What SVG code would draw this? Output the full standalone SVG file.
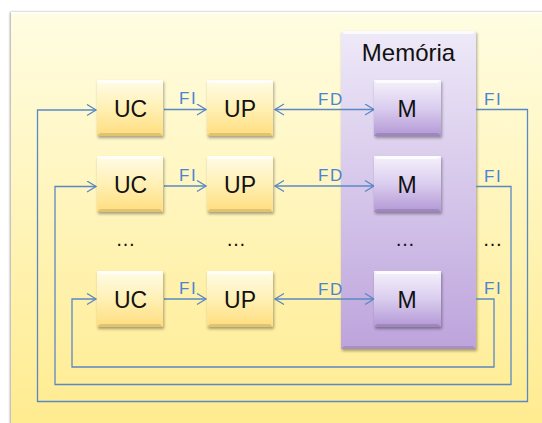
<svg xmlns="http://www.w3.org/2000/svg" width="542" height="423" viewBox="0 0 542 423">
  <style>
    .box-label { font-family: "Liberation Sans", Arial, sans-serif; font-size: 23px; fill: #111; text-anchor: middle; }
    .title { font-family: "Liberation Sans", Arial, sans-serif; font-size: 24px; fill: #111; text-anchor: middle; }
    .edge-label { font-family: "Liberation Sans", Arial, sans-serif; font-size: 17px; fill: #4A84D2; letter-spacing: 1.5px; }
    .dots { font-family: "Liberation Sans", Arial, sans-serif; font-size: 20px; fill: #111; text-anchor: middle; }
    .wire { fill: none; stroke: #5A88C4; stroke-width: 1.3; }
    .bevel-top { fill: #fff; opacity: 0.75; }
    .bevel-bottom { fill: #000; opacity: 0.12; }
  </style>
  <defs>
    <linearGradient id="panelFill" x1="0" y1="0" x2="0" y2="1">
      <stop offset="0" stop-color="#FFFDE2"/>
      <stop offset="1" stop-color="#FFEB8E"/>
    </linearGradient>
    <linearGradient id="yellowBox" x1="0" y1="0" x2="0" y2="1">
      <stop offset="0" stop-color="#FFFCE8"/>
      <stop offset="0.5" stop-color="#FFF0B4"/>
      <stop offset="1" stop-color="#FFDD7E"/>
    </linearGradient>
    <linearGradient id="memFill" x1="0" y1="0" x2="0" y2="1">
      <stop offset="0" stop-color="#EEE9F8"/>
      <stop offset="1" stop-color="#BDA4DC"/>
    </linearGradient>
    <linearGradient id="mFill" x1="0" y1="0" x2="0" y2="1">
      <stop offset="0" stop-color="#F5F1FB"/>
      <stop offset="0.5" stop-color="#DACDEF"/>
      <stop offset="1" stop-color="#B398D5"/>
    </linearGradient>
    <filter id="shadow" x="-20%" y="-20%" width="150%" height="150%">
      <feDropShadow dx="1" dy="2" stdDeviation="1.5" flood-color="#000" flood-opacity="0.35"/>
    </filter>
    <filter id="panelShadow" x="-5%" y="-5%" width="110%" height="110%">
      <feDropShadow dx="-1" dy="0" stdDeviation="1.2" flood-color="#000" flood-opacity="0.35"/>
    </filter>
    <marker id="arrow" markerUnits="userSpaceOnUse" markerWidth="14" markerHeight="14" refX="10" refY="6" orient="auto-start-reverse">
      <path d="M1,0.5 L10,6 L1,11.5" fill="none" stroke="#5A88C4" stroke-width="1.3"/>
    </marker>
  </defs>

  <!-- background panel -->
  <rect x="11" y="12" width="545" height="420" fill="url(#panelFill)" filter="url(#panelShadow)"/>
  <rect x="11" y="12" width="545" height="2" fill="#fff" opacity="0.8"/>

  <!-- memory block -->
  <g id="memoria">
    <rect x="341" y="31" width="135" height="318" fill="url(#memFill)" filter="url(#shadow)"/>
    <path class="bevel-top" d="M341,31 H476 L473,34 H344 Z"/>
    <path class="bevel-bottom" d="M341,349 H476 L473,346 H344 Z"/>
    <text class="title" x="408.5" y="61">Memória</text>
  </g>

  <!-- connectors -->
  <g id="connectors">
    <!-- UC -> UP -->
    <line class="wire" x1="164" y1="109.5" x2="206" y2="109.5" marker-end="url(#arrow)"/>
    <line class="wire" x1="164" y1="186" x2="206" y2="186" marker-end="url(#arrow)"/>
    <line class="wire" x1="164" y1="299" x2="206" y2="299" marker-end="url(#arrow)"/>
    <!-- UP <-> M -->
    <line class="wire" x1="275" y1="109.5" x2="374" y2="109.5" marker-start="url(#arrow)" marker-end="url(#arrow)"/>
    <line class="wire" x1="275" y1="186" x2="374" y2="186" marker-start="url(#arrow)" marker-end="url(#arrow)"/>
    <line class="wire" x1="275" y1="299" x2="374" y2="299" marker-start="url(#arrow)" marker-end="url(#arrow)"/>
    <!-- M -> UC feedback loops -->
    <polyline class="wire" points="476,109.5 527.5,109.5 527.5,401.5 37.5,401.5 37.5,110 96,110" marker-end="url(#arrow)"/>
    <polyline class="wire" points="476,186.5 511,186.5 511,384.5 55,384.5 55,186.5 96,186.5" marker-end="url(#arrow)"/>
    <polyline class="wire" points="476,299 494,299 494,367 72,367 72,299 96,299" marker-end="url(#arrow)"/>
    <!-- labels -->
    <text class="edge-label" x="179" y="104">FI</text>
    <text class="edge-label" x="179" y="181">FI</text>
    <text class="edge-label" x="179" y="294">FI</text>
    <text class="edge-label" x="318" y="105">FD</text>
    <text class="edge-label" x="318" y="181">FD</text>
    <text class="edge-label" x="318" y="295">FD</text>
    <text class="edge-label" x="484" y="105">FI</text>
    <text class="edge-label" x="484" y="182">FI</text>
    <text class="edge-label" x="484" y="294">FI</text>
  </g>

  <!-- row 1 -->
  <g id="uc1">
    <rect x="97" y="80" width="66" height="56" fill="url(#yellowBox)" filter="url(#shadow)"/>
    <path class="bevel-top" d="M97,80 H163 L160,83 H100 Z"/>
    <path class="bevel-bottom" d="M97,136 H163 L160,133 H100 Z"/>
    <text class="box-label" x="130.5" y="116.5">UC</text>
  </g>
  <g id="up1">
    <rect x="207" y="80" width="66" height="56" fill="url(#yellowBox)" filter="url(#shadow)"/>
    <path class="bevel-top" d="M207,80 H273 L270,83 H210 Z"/>
    <path class="bevel-bottom" d="M207,136 H273 L270,133 H210 Z"/>
    <text class="box-label" x="240" y="116.5">UP</text>
  </g>
  <g id="m1">
    <rect x="374" y="80" width="67" height="56" fill="url(#mFill)" filter="url(#shadow)"/>
    <path class="bevel-top" d="M374,80 H441 L438,83 H377 Z"/>
    <path class="bevel-bottom" d="M374,136 H441 L438,133 H377 Z"/>
    <text class="box-label" x="407" y="116.5">M</text>
  </g>

  <!-- row 2 -->
  <g id="uc2">
    <rect x="97" y="156" width="66" height="56" fill="url(#yellowBox)" filter="url(#shadow)"/>
    <path class="bevel-top" d="M97,156 H163 L160,159 H100 Z"/>
    <path class="bevel-bottom" d="M97,212 H163 L160,209 H100 Z"/>
    <text class="box-label" x="130.5" y="192.5">UC</text>
  </g>
  <g id="up2">
    <rect x="207" y="156" width="66" height="56" fill="url(#yellowBox)" filter="url(#shadow)"/>
    <path class="bevel-top" d="M207,156 H273 L270,159 H210 Z"/>
    <path class="bevel-bottom" d="M207,212 H273 L270,209 H210 Z"/>
    <text class="box-label" x="240" y="192.5">UP</text>
  </g>
  <g id="m2">
    <rect x="374" y="156" width="67" height="56" fill="url(#mFill)" filter="url(#shadow)"/>
    <path class="bevel-top" d="M374,156 H441 L438,159 H377 Z"/>
    <path class="bevel-bottom" d="M374,212 H441 L438,209 H377 Z"/>
    <text class="box-label" x="407" y="192.5">M</text>
  </g>

  <!-- ellipsis row -->
  <g id="ellipsis">
    <text class="dots" x="125.5" y="246">…</text>
    <text class="dots" x="236" y="246">…</text>
    <text class="dots" x="405" y="246">…</text>
    <text class="dots" x="492.5" y="246">…</text>
  </g>

  <!-- row 3 -->
  <g id="uc3">
    <rect x="97" y="271" width="66" height="56" fill="url(#yellowBox)" filter="url(#shadow)"/>
    <path class="bevel-top" d="M97,271 H163 L160,274 H100 Z"/>
    <path class="bevel-bottom" d="M97,327 H163 L160,324 H100 Z"/>
    <text class="box-label" x="130.5" y="307.5">UC</text>
  </g>
  <g id="up3">
    <rect x="207" y="271" width="66" height="56" fill="url(#yellowBox)" filter="url(#shadow)"/>
    <path class="bevel-top" d="M207,271 H273 L270,274 H210 Z"/>
    <path class="bevel-bottom" d="M207,327 H273 L270,324 H210 Z"/>
    <text class="box-label" x="240" y="307.5">UP</text>
  </g>
  <g id="m3">
    <rect x="374" y="271" width="67" height="56" fill="url(#mFill)" filter="url(#shadow)"/>
    <path class="bevel-top" d="M374,271 H441 L438,274 H377 Z"/>
    <path class="bevel-bottom" d="M374,327 H441 L438,324 H377 Z"/>
    <text class="box-label" x="407" y="307.5">M</text>
  </g>
</svg>
